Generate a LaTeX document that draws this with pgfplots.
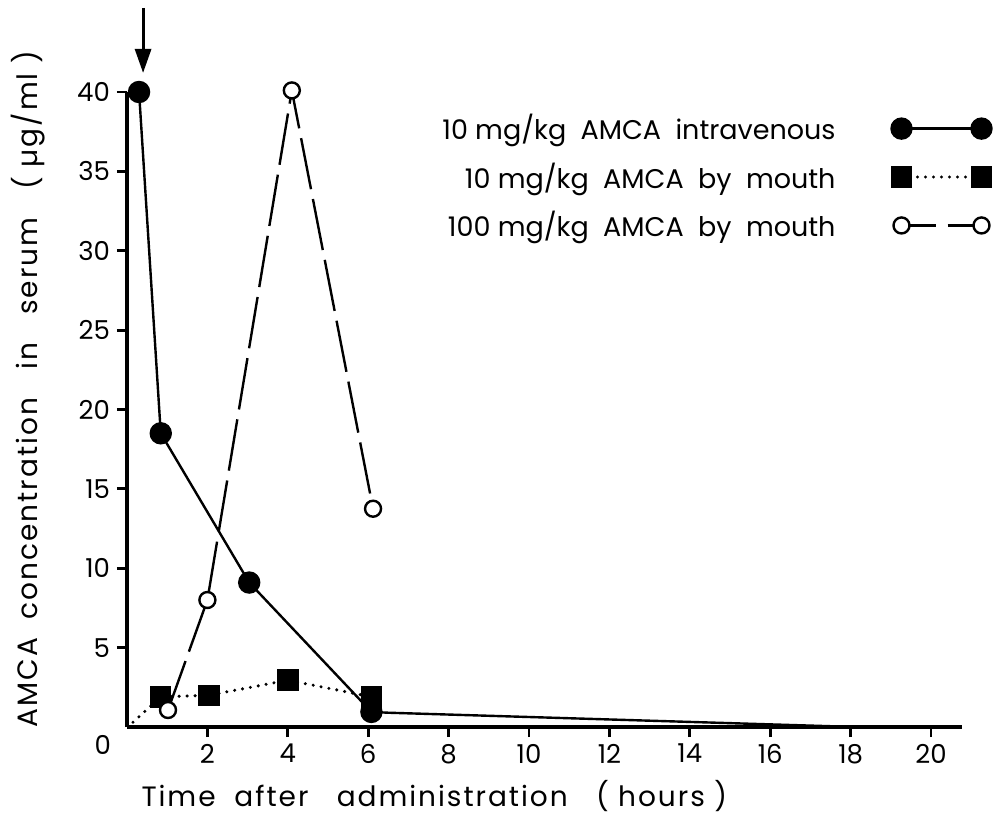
\documentclass[border=0pt]{standalone}
\usepackage{fontspec}
\setmainfont{Poppins}
\usepackage{pgfplots}
\pgfplotsset{compat=1.18}
\usetikzlibrary{arrows.meta}
\begin{document}
\begin{tikzpicture}
\begin{axis}[
  at={(0,0)}, anchor=south west,
  scale only axis, width=417.5pt, height=317.5pt,
  xmin=0, xmax=20.77, ymin=0, ymax=40,
  axis x line=bottom, axis y line=left,
  axis line style={-, line width=1.8pt},
  xtick={2,4,...,20}, ytick={5,10,...,40},
  tick align=outside, major tick length=5pt,
  tick style={line width=1.4pt, black},
  ticklabel style={font=\fontsize{13}{15}\selectfont},
  /pgf/number format/assume math mode=true,
  xlabel={Time\ \ after\ \ \ administration\ \ \ ( hours )},
  ylabel={AMCA\ \ concentration\ \ \ in\ \ \ serum\ \ \ ( µg/ml )},
  label style={font=\fontsize{14}{16}\selectfont\addfontfeature{LetterSpace=7}},
  xlabel style={at={(axis description cs:0.368,-0.108)}, anchor=center},
  ylabel style={at={(axis description cs:-0.1186,0.532)}, anchor=center},
  clip=false,
  legend plot pos=right,
  legend cell align=right,
  legend style={at={(axis description cs:1.043,0.978)}, anchor=north east,
    draw=none, fill=none, font=\fontsize{13.5}{16}\selectfont,
    row sep=6pt},
  legend image code/.code={\draw[#1] plot coordinates {(0pt,0pt) (40pt,0pt)};},
]
% intravenous dose: solid line with filled circles
\addplot[black, line width=1.2pt, mark=*, mark size=5pt, mark indices={1,2,3,4},
  mark options={solid}]
  coordinates {(0.3,40) (0.84,18.5) (3.04,9.1) (6.08,0.95) (6.5,0.9) (17.5,0.05)};
\addlegendentry{10 mg/kg\ \ AMCA\ \ intravenous\rule{26pt}{0pt}}
% 10 mg/kg oral dose: dotted line with filled squares
\addplot[black, line width=1.7pt, line cap=round, dash pattern=on 0pt off 4pt,
  mark=square*, mark size=4.5pt, mark indices={2,3,4,5}, mark options={solid},
  legend image post style={mark indices={1,2}}]
  coordinates {(0.15,0.3) (0.84,1.9) (2.04,2.0) (4.0,2.95) (6.08,1.9)};
\addlegendentry{10 mg/kg\ \ AMCA\ \ by\ \ mouth\rule{26pt}{0pt}}
% 100 mg/kg oral dose: long dashes with open circles
\addplot[black, line width=1.2pt, dash pattern=on 26pt off 5pt,
  mark=*, mark size=4pt, mark options={solid, fill=white, line width=1.2pt},
  legend image post style={dash pattern=on 17pt off 6pt}]
  coordinates {(1.02,1.07) (2.0,8.0) (4.1,40.1) (6.12,13.75)};
\addlegendentry{100 mg/kg\ \ AMCA\ \ by\ \ mouth\rule{26pt}{0pt}}
% dosing time
\draw[line width=1.5pt, -{Triangle[length=12pt,width=8pt]}]
  (axis cs:0.4,45.3) -- (axis cs:0.4,41.2);
\node[font=\fontsize{13}{15}\selectfont] at (axis cs:-0.6,-1.15) {0};
\end{axis}
\pgfresetboundingbox
\path (-63.5pt,-44.5pt) rectangle (437.5pt,363.5pt);
\end{tikzpicture}
\end{document}
